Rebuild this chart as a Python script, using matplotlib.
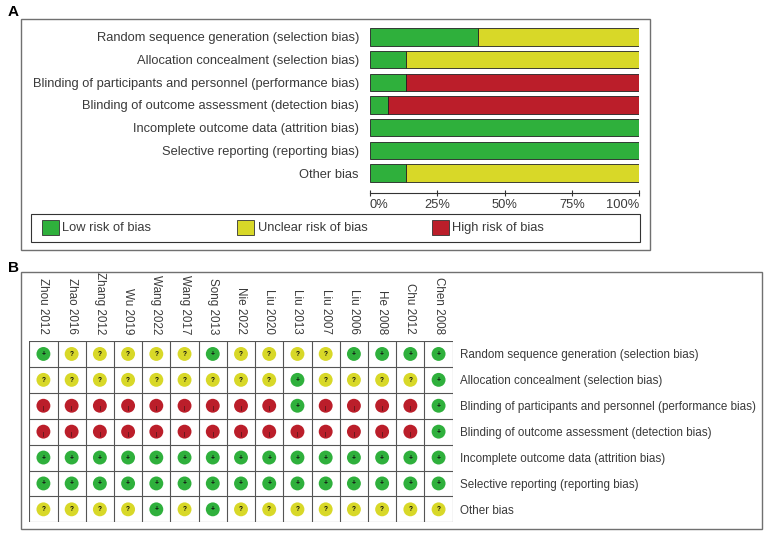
import matplotlib
matplotlib.use("Agg")
import matplotlib.pyplot as plt
from matplotlib.patches import Rectangle

plt.rcParams["font.family"] = ["Liberation Sans", "DejaVu Sans"]

W, H = 767, 533

domains = [
    "Random sequence generation (selection bias)",
    "Allocation concealment (selection bias)",
    "Blinding of participants and personnel (performance bias)",
    "Blinding of outcome assessment (detection bias)",
    "Incomplete outcome data (attrition bias)",
    "Selective reporting (reporting bias)",
    "Other bias",
]
studies = ["Zhou 2012", "Zhao 2016", "Zhang 2012", "Wu 2019", "Wang 2022",
           "Wang 2017", "Song 2013", "Nie 2022", "Liu 2020", "Liu 2013",
           "Liu 2007", "Liu 2006", "He 2008", "Chu 2012", "Chen 2008"]

# one string per domain, one char per study: + low, ? unclear, - high
random_seq = list("+?????+????++++")
alloc = list("?????????+????+")
blind_part = list("---------+----+")
blind_out = list("--------------+")
incomplete = list("+++++++++++++++")
selective = list("+++++++++++++++")
other = list("????+?+????????")
judgments = [random_seq, alloc, blind_part, blind_out, incomplete, selective, other]

legend_labels = ["Low risk of bias", "Unclear risk of bias", "High risk of bias"]
pct_ticks = [0, 25, 50, 75, 100]

GREEN = "#2fb03c"
YELLOW = "#d8d828"
RED = "#bb1e2a"
colors = {"+": GREEN, "?": YELLOW, "-": RED}
TXT = "#3a3a3a"


def px_axes(fig, x0, y0, x1, y1):
    return fig.add_axes([x0 / W, 1 - y1 / H, (x1 - x0) / W, (y1 - y0) / H])


def px_rect(fig, x0, y0, x1, y1, **kw):
    fig.patches.append(Rectangle((x0 / W, 1 - y1 / H), (x1 - x0) / W, (y1 - y0) / H,
                                 transform=fig.transFigure, fill=False, **kw))


fig = plt.figure(figsize=(W / 100, H / 100), dpi=100)

# ---------------- panel A ----------------
px_rect(fig, 21, 19, 650, 250, edgecolor="#707070", lw=1.0)
fig.text(8 / W, 1 - 12 / H, "A", fontsize=11, fontweight="bold", va="center")

n = len(studies)
low = [100 * j.count("+") / n for j in judgments]
unclear = [100 * j.count("?") / n for j in judgments]
high = [100 * j.count("-") / n for j in judgments]

ax = px_axes(fig, 370, 25.65, 639.3, 184.35)
ypos = list(range(len(domains)))
kw = dict(height=0.76, edgecolor="#222222", linewidth=0.6)
ax.barh(ypos, low, color=GREEN, **kw)
ax.barh(ypos, unclear, left=low, color=YELLOW, **kw)
ax.barh(ypos, high, left=[a + b for a, b in zip(low, unclear)], color=RED, **kw)
ax.set_xlim(0, 100)
ax.set_ylim(len(domains) - 0.5, -0.5)
ax.set_yticks(ypos)
ax.set_yticklabels(domains, fontsize=9.3, color=TXT)
ax.tick_params(axis="y", length=0, pad=8)
for s in ["top", "right", "left"]:
    ax.spines[s].set_visible(False)
ax.spines["bottom"].set_position(("outward", 6.5))
ax.spines["bottom"].set_color("#333333")
ax.spines["bottom"].set_linewidth(0.8)
ax.set_xticks(pct_ticks)
ax.set_xticklabels([f"{t}%" for t in pct_ticks], fontsize=9.3, color=TXT)
ax.tick_params(axis="x", direction="inout", length=4.5, width=0.8, color="#333333", pad=2)
labs = ax.get_xticklabels()
labs[0].set_ha("left")
labs[-1].set_ha("right")

# legend
px_rect(fig, 31, 214.3, 640.3, 242.3, edgecolor="#333333", lw=0.8)
leg_x = [41.7, 237, 432]
for lx, lab, col in zip(leg_x, legend_labels, [GREEN, YELLOW, RED]):
    fig.patches.append(Rectangle((lx / W, 1 - 235 / H), 17 / W, 15 / H,
                                 transform=fig.transFigure, facecolor=col,
                                 edgecolor="#333333", lw=0.6))
    fig.text((lx + 20.5) / W, 1 - 228 / H, lab, fontsize=9.3, color=TXT, va="center")

# ---------------- panel B ----------------
px_rect(fig, 21, 271.7, 762, 529, edgecolor="#707070", lw=1.0)
fig.text(8 / W, 1 - 268 / H, "B", fontsize=11, fontweight="bold", va="center")

bx = px_axes(fig, 29.3, 341, 452.7, 522.3)
bx.set_xlim(-0.5, n - 0.5)
bx.set_ylim(len(domains) - 0.5, -0.5)
for i in range(n + 1):
    bx.axvline(i - 0.5, color="#555555", lw=0.8)
for r in range(len(domains) + 1):
    bx.axhline(r - 0.5, color="#555555", lw=0.8)
for s in bx.spines.values():
    s.set_visible(False)

for r, row in enumerate(judgments):
    xs = list(range(n))
    bx.scatter(xs, [r] * n, s=100, c=[colors[j] for j in row], linewidths=0, zorder=3)
    for c, j in enumerate(row):
        if j == "-":
            bx.text(c, r + 0.12, "|", fontsize=3.5, ha="center", va="center",
                    color="#111111", zorder=4)
        else:
            bx.text(c, r + 0.02, j, fontsize=4.8, ha="center", va="center",
                    color="#111111", zorder=4, fontweight="bold")

bx.set_xticks(range(n))
bx.set_xticklabels(studies, rotation=-90, fontsize=8.4, color=TXT)
bx.xaxis.tick_top()
bx.tick_params(axis="x", length=0, pad=5)
for t in bx.get_xticklabels():
    t.set_va("bottom")
bx.set_yticks(range(len(domains)))
bx.set_yticklabels(domains, fontsize=8.4, color=TXT)
bx.yaxis.tick_right()
bx.tick_params(axis="y", length=0, pad=5.5)

fig.savefig("out.png", dpi=100)
